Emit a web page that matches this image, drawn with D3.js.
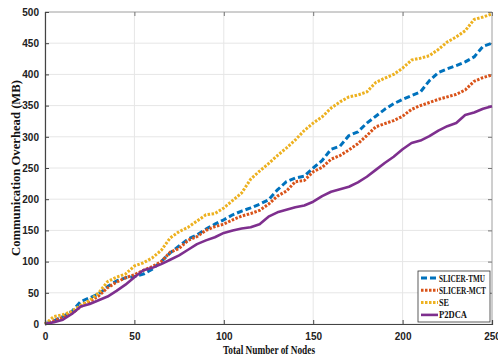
<!DOCTYPE html>
<html>
<head>
<meta charset="utf-8">
<script src="https://cdn.jsdelivr.net/npm/d3@7"></script>
<style>
  body { margin: 0; background: #fff; }
  svg { display: block; font-family: "Liberation Serif", "DejaVu Serif", serif; }
  .tick text { font-size: 10px; font-weight: bold; fill: #222; }
</style>
</head>
<body>
<div id="chart"></div>
<script>
// nodes sampled every 5
const nodes = [0,5,10,15,20,25,30,35,40,45,50,55,60,65,70,75,80,85,90,95,100,105,110,115,120,125,130,135,140,145,150,155,160,165,170,175,180,185,190,195,200,205,210,215,220,225,230,235,240,245,250];

const slicerTMU = [0,5,12,20,36,42,48,60,69,74,76,80,88,100,114,125,136,143,152,160,167,175,181,186,192,199,215,228,234,237,250,262,280,285,302,308,322,333,344,353,360,366,372,390,403,409,414,420,428,445,450];
const slicerMCT = [0,5,11,17,28,36,45,58,67,74,79,86,92,100,115,121,134,140,150,156,160,167,173,177,182,192,205,213,228,230,244,251,264,270,279,289,302,316,321,326,333,344,350,355,360,364,368,375,389,395,399];
const se = [0,12,15,20,30,38,50,68,75,80,93,98,106,118,138,148,155,165,175,177,186,198,210,232,245,257,270,282,295,310,322,332,346,356,364,367,372,387,394,400,410,423,426,430,440,452,460,470,488,492,497];
const p2dca = [0,3,7,16,28,32,38,44,53,63,75,86,90,96,103,110,119,128,134,139,146,150,153,155,160,172,179,183,187,190,196,205,212,216,220,227,236,247,258,268,280,290,294,301,310,317,322,335,339,345,349];

const xTicks = [0,50,100,150,200,250];
const yTicks = [0,50,100,150,200,250,300,350,400,450,500];

const series = [
  { name: 'SLICER-TMU', values: slicerTMU, color: '#0072BD', dash: '6,3', width: 3 },
  { name: 'SLICER-MCT', values: slicerMCT, color: '#D95319', dash: '2.5,1.5', width: 3 },
  { name: 'SE', values: se, color: '#EDB120', dash: '2.5,1.5', width: 3 },
  { name: 'P2DCA', values: p2dca, color: '#7E2F8E', dash: null, width: 2.6 }
];

const W = 498, H = 358;
const margin = { top: 12, right: 6, bottom: 34, left: 45 };
const width = W - margin.left - margin.right;
const height = H - margin.top - margin.bottom;

const svg = d3.select('#chart').append('svg')
  .attr('width', W)
  .attr('height', H);

const chart = svg.append('g')
  .attr('transform', `translate(${margin.left}, ${margin.top})`);

const x = d3.scaleLinear().domain([0, 250]).range([0, width]);
const y = d3.scaleLinear().domain([0, 500]).range([height, 0]);

// grid
chart.append('g')
  .selectAll('line')
  .data(xTicks)
  .enter().append('line')
  .attr('x1', d => x(d)).attr('x2', d => x(d))
  .attr('y1', 0).attr('y2', height)
  .attr('stroke', '#e6e6e6').attr('stroke-width', 1);
chart.append('g')
  .selectAll('line')
  .data(yTicks)
  .enter().append('line')
  .attr('x1', 0).attr('x2', width)
  .attr('y1', d => y(d)).attr('y2', d => y(d))
  .attr('stroke', '#e6e6e6').attr('stroke-width', 1);

// box top / right
chart.append('line').attr('x1', 0).attr('x2', width).attr('y1', 0).attr('y2', 0)
  .attr('stroke', '#aaa');
chart.append('line').attr('x1', width).attr('x2', width).attr('y1', 0).attr('y2', height)
  .attr('stroke', '#aaa');

// inner ticks on top & right
chart.append('g')
  .call(d3.axisBottom(x).tickValues(xTicks).tickSize(4).tickFormat(''))
  .call(g => g.select('.domain').remove())
  .selectAll('line').attr('stroke', '#777');
chart.append('g')
  .attr('transform', `translate(${width}, 0)`)
  .call(d3.axisRight(y).tickValues(yTicks).tickSize(-4).tickFormat(''))
  .call(g => g.select('.domain').remove())
  .selectAll('line').attr('stroke', '#777');

// lines
const line = d3.line()
  .x((d, i) => x(nodes[i]))
  .y(d => y(d));

series.forEach(s => {
  chart.append('path')
    .datum(s.values)
    .attr('fill', 'none')
    .attr('stroke', s.color)
    .attr('stroke-width', s.width)
    .attr('stroke-dasharray', s.dash)
    .attr('stroke-linejoin', 'round')
    .attr('d', line);
});

// axes
const xAxis = chart.append('g')
  .attr('transform', `translate(0, ${height})`)
  .call(d3.axisBottom(x).tickValues(xTicks).tickSize(-4).tickPadding(9));
const yAxis = chart.append('g')
  .call(d3.axisLeft(y).tickValues(yTicks).tickSize(-4).tickPadding(6));
[xAxis, yAxis].forEach(a => {
  a.select('.domain').attr('stroke', '#444').attr('stroke-width', 1.2);
  a.selectAll('.tick line').attr('stroke', '#444');
});

// axis titles (narrow serif like the original)
svg.append('text')
  .attr('x', 223)
  .attr('y', 354)
  .attr('textLength', 92)
  .attr('lengthAdjust', 'spacingAndGlyphs')
  .attr('font-size', 12)
  .attr('font-weight', 'bold')
  .attr('fill', '#111')
  .text('Total Number of Nodes');
svg.append('text')
  .attr('transform', `translate(20, ${margin.top + height / 2}) rotate(-90)`)
  .attr('x', -88)
  .attr('textLength', 176)
  .attr('lengthAdjust', 'spacingAndGlyphs')
  .attr('font-size', 11.5)
  .attr('font-weight', 'bold')
  .attr('fill', '#111')
  .text('Communication Overhead (MB)');

// legend
const lg = svg.append('g').attr('transform', 'translate(418, 271)');
lg.append('rect')
  .attr('width', 72).attr('height', 51)
  .attr('fill', '#fff').attr('stroke', '#333').attr('stroke-width', 0.8);
const legendW = { 'SLICER-TMU': 46, 'SLICER-MCT': 47, 'SE': 10, 'P2DCA': 28 };
series.forEach((s, i) => {
  const yy = 7 + i * 12.3;
  lg.append('line')
    .attr('x1', 3).attr('x2', 20)
    .attr('y1', yy).attr('y2', yy)
    .attr('stroke', s.color)
    .attr('stroke-width', s.width)
    .attr('stroke-dasharray', s.dash);
  lg.append('text')
    .attr('x', 21).attr('y', yy + 3.5)
    .attr('textLength', legendW[s.name])
    .attr('lengthAdjust', 'spacingAndGlyphs')
    .attr('font-size', 10)
    .attr('font-weight', 'bold')
    .attr('fill', '#111')
    .text(s.name);
});
</script>
</body>
</html>
